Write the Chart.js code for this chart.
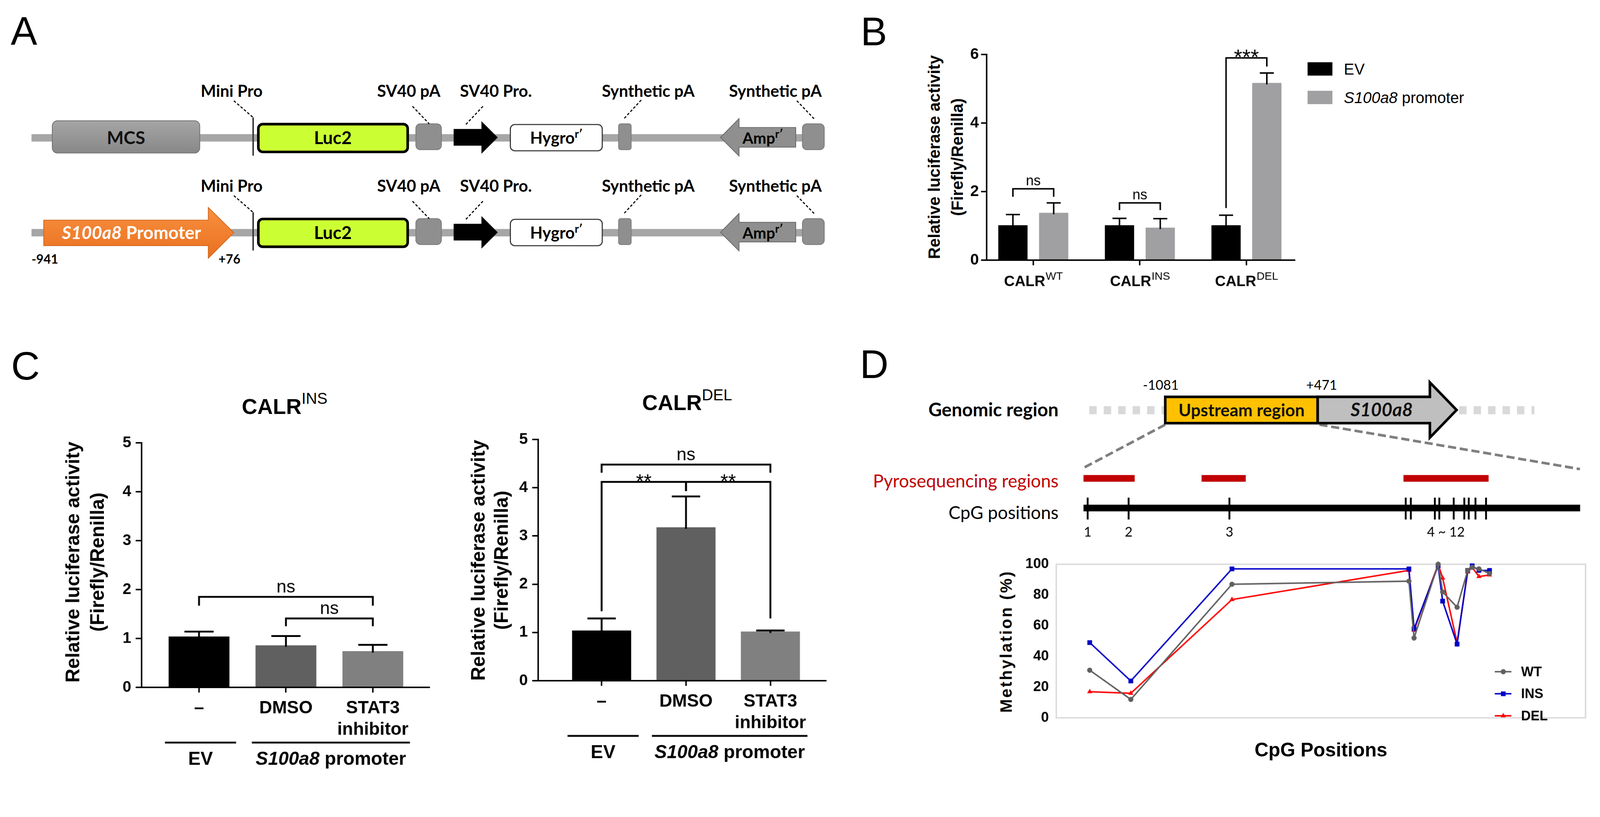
<!DOCTYPE html>
<html lang="en">
<head>
<meta charset="utf-8">
<title>S100a8 promoter activity and methylation</title>
<script src="https://cdn.jsdelivr.net/npm/chart.js@4.4.1/dist/chart.umd.min.js"></script>
<style>
  html, body { margin: 0; padding: 0; background: #fff; overflow: hidden; }
  #page { position: relative; width: 4317px; height: 2092px; overflow: hidden; transform-origin: 0 0; background: #fff; }
  #art { position: absolute; left: 0; top: 0; }
  canvas { position: absolute; }
</style>
</head>
<body>
<div id="page">
<svg id="art" width="4317" height="2092" xmlns="http://www.w3.org/2000/svg"></svg>
</div>
<script>
// ── Data ────────────────────────────────────────────────────
// B: EV vs S100a8 promoter, per CALR genotype
const bGenotypes = ['WT', 'INS', 'DEL'];
const bEV = [1.02, 1.02, 1.02];
const bEVErr = [1.33, 1.22, 1.31];
const bPromoter = [1.38, 0.95, 5.17];
const bPromoterErr = [1.67, 1.21, 5.46];
const bTickStep = 2;
const bSig = [
    { a: [0, 0], b: [1, 0], y: 2.08, ya: 1.85, yb: 1.85, text: 'ns' },
    { a: [0, 1], b: [1, 1], y: 1.67, ya: 1.46, yb: 1.46, text: 'ns' },
    { a: [0, 2], b: [1, 2], y: 5.90, ya: 1.52, yb: 5.65, text: '***' },
];

// C: STAT3 inhibitor, CALR INS and DEL
const cTreatments = [['\u2013'], ['DMSO'], ['STAT3', 'inhibitor']];
const cGroups = [
    { from: 0, to: 0, italic: '', text: 'EV' },
    { from: 1, to: 2, italic: 'S100a8', text: ' promoter' },
];
const cInsMean = [1.04, 0.86, 0.74];
const cInsErr = [1.14, 1.05, 0.87];
const cDelMean = [1.04, 3.18, 1.02];
const cDelErr = [1.29, 3.82, 1.04];
const cTickStep = 1;
const cInsSig = [
    { a: 0, b: 2, y: 1.85, ya: 1.67, yb: 1.67, text: 'ns' },
    { a: 1, b: 2, y: 1.41, ya: 1.25, yb: 1.25, text: 'ns' },
];
const cDelSig = [
    { a: 0, b: 2, y: 4.48, ya: 4.31, yb: 4.31, text: 'ns' },
    { a: 0, b: 1, y: 4.12, ya: 1.44, yb: 3.93, text: '**' },
    { a: 1, b: 2, y: 4.12, ya: 3.93, yb: 1.29, text: '**' },
];
const cColors = ['#000000', '#606060', '#808080'];

// D: CpG methylation (positions in bp relative to the S100a8 TSS)
const cpgPos = [-1068, -940, -625, -74, -58, 17, 31, 76, 109, 123, 144, 177];
const cpgLabelGroups = [{ from: 0, to: 0, text: '1' }, { from: 1, to: 1, text: '2' }, { from: 2, to: 2, text: '3' }, { from: 3, to: 11, text: '4 ~ 12' }];
const pyroRegions = [[-1081, -921], [-712, -574], [-81, 185]];
const upstreamSpan = [-1081, 471];
const methWT = [31, 12, 87, 89, 52, 100, 82, 72, 96, 98, 97, 94];
const methINS = [49, 24, 97, 97, 58, 99, 76, 48, 96, 99, 96, 96];
const methDEL = [17, 16, 77, 96, 57, 100, 91, 49, 95, 98, 92, 93];
const methTickStep = 20;

const ARIAL = "'Liberation Sans', Arial, sans-serif";
const CALIBRI = "Lato, 'Open Sans', sans-serif";
const PAGE_W = 4317, PAGE_H = 2092;

// ── Static artwork (vector maps, schematic, titles) ─────────
function text(x, y, content, o) {
    const a = [`x="${x}"`, `y="${y}"`, `font-family="${o.family || ARIAL}"`, `font-size="${o.size}"`,
        `font-weight="${o.weight || 'normal'}"`, `text-anchor="${o.anchor || 'middle'}"`, `fill="${o.fill || '#000'}"`];
    if (o.italic) a.push('font-style="italic"');
    if (o.spacing) a.push(`letter-spacing="${o.spacing}"`);
    if (o.rotate) a.push(`transform="rotate(-90 ${x} ${y})"`, 'dominant-baseline="central"');
    return `<text ${a.join(' ')}>${content}</text>`;
}
const sup = (s, size, dy, weight) => `<tspan font-size="${size}" font-weight="${weight || 'normal'}" dy="${-dy}">${s}</tspan>`;
const leader = (x1, y1, x2, y2) => `<line x1="${x1}" y1="${y1}" x2="${x2}" y2="${y2}" stroke="#000" stroke-width="3" stroke-dasharray="7 5"/>`;

function vectorRow(dy, withPromoter) {
    const y = 372 + dy;
    const lab = { size: 44, weight: 'bold', family: CALIBRI };
    let s = `<rect x="85" y="${y - 10}" width="2139" height="20" fill="#a6a6a6"/>`;
    if (withPromoter) {
        s += `<polygon points="118,${y - 34} 562,${y - 34} 562,${y - 68} 631,${y} 562,${y + 69} 562,${y + 35} 118,${y + 35}" fill="url(#orange)" stroke="#d0651c" stroke-width="2"/>`;
        s += `<text x="355" y="${y + 17}" font-family="${CALIBRI}" font-size="48" font-weight="bold" text-anchor="middle" fill="#fff"><tspan font-style="italic">S100a8</tspan> Promoter</text>`;
        s += text(121, y + 83, '-941', { size: 34, weight: 'bold', family: CALIBRI });
        s += text(619, y + 83, '+76', { size: 34, weight: 'bold', family: CALIBRI });
    } else {
        s += `<rect x="141" y="${y - 46}" width="398" height="87" rx="14" fill="url(#mcs)" stroke="#707070" stroke-width="2"/>`;
        s += text(340, y + 17, 'MCS', { size: 48, weight: 'bold', family: CALIBRI, fill: '#111' });
    }
    // mini promoter
    s += `<line x1="683" y1="${y - 55}" x2="683" y2="${y + 48}" stroke="#333" stroke-width="4"/>`;
    s += text(625, 261 + dy, 'Mini Pro', lab) + leader(631, 272 + dy, 683, 317 + dy);
    // Luc2
    s += `<rect x="697" y="${y - 37}" width="403" height="75" rx="12" fill="#ccff33" stroke="#000" stroke-width="7"/>`;
    s += text(898, y + 17, 'Luc2', { size: 48, weight: 'bold', family: CALIBRI });
    // SV40 pA
    s += `<rect x="1122" y="${y - 38}" width="69" height="70" rx="12" fill="#8f8f8f" stroke="#7a7a7a" stroke-width="2"/>`;
    s += text(1103, 261 + dy, 'SV40 pA', lab) + leader(1113, 287 + dy, 1158, 334 + dy);
    // SV40 promoter
    s += `<polygon points="1224,${y - 24} 1299,${y - 24} 1299,${y - 45} 1343,${y - 1} 1299,${y + 43} 1299,${y + 21} 1224,${y + 21}" fill="#000"/>`;
    s += text(1338, 261 + dy, 'SV40 Pro.', lab) + leader(1303, 287 + dy, 1255, 338 + dy);
    // Hygro
    s += `<rect x="1377" y="${y - 36}" width="248" height="71" rx="12" fill="#fff" stroke="#3a3a3a" stroke-width="3"/>`;
    s += `<text x="1501" y="${y + 16}" font-family="${CALIBRI}" font-size="44" font-weight="bold" text-anchor="middle">Hygro${sup('r\u2032', 30, 16, 'bold')}</text>`;
    // synthetic pA
    s += `<rect x="1669" y="${y - 38}" width="34" height="70" rx="6" fill="#8f8f8f" stroke="#7a7a7a" stroke-width="2"/>`;
    s += text(1749, 261 + dy, 'Synthetic pA', lab) + leader(1730, 270 + dy, 1682, 322 + dy);
    // Amp
    s += `<polygon points="1944,${y - 1} 1994,${y - 52} 1994,${y - 28} 2147,${y - 28} 2147,${y + 25} 1994,${y + 25} 1994,${y + 49}" fill="#8f8f8f" stroke="#666" stroke-width="2"/>`;
    s += `<text x="2058" y="${y + 16}" font-family="${CALIBRI}" font-size="42" font-weight="bold" text-anchor="middle">Amp${sup('r\u2032', 30, 16, 'bold')}</text>`;
    s += `<rect x="2165" y="${y - 38}" width="59" height="70" rx="12" fill="#8f8f8f" stroke="#7a7a7a" stroke-width="2"/>`;
    s += text(2092, 261 + dy, 'Synthetic pA', lab) + leader(2150, 272 + dy, 2198, 322 + dy);
    return s;
}

function buildArt() {
    let s = `<defs>
      <linearGradient id="mcs" x1="0" y1="0" x2="0" y2="1"><stop offset="0" stop-color="#a5a5a5"/><stop offset="1" stop-color="#888"/></linearGradient>
      <linearGradient id="orange" x1="0" y1="0" x2="0" y2="1"><stop offset="0" stop-color="#f79040"/><stop offset="1" stop-color="#ea701f"/></linearGradient>
    </defs>`;
    // panel letters
    const L = { size: 107, anchor: 'start' };
    s += text(29, 121, 'A', L) + text(2322, 122, 'B', L) + text(30, 1024, 'C', L) + text(2320, 1020, 'D', L);

    // A
    s += vectorRow(0, false) + vectorRow(256, true);

    // B titles and legend
    const yt = { size: 44, weight: 'bold', rotate: true };
    s += text(2521, 424, 'Relative luciferase activity', yt) + text(2583, 424, '(Firefly/Renilla)', yt);
    s += `<rect x="3528" y="168" width="67" height="36" fill="#000"/><rect x="3528" y="245" width="67" height="36" fill="#a0a0a3"/>`;
    s += text(3626, 201, 'EV', { size: 42, anchor: 'start' });
    s += text(3626, 278, '<tspan font-style="italic">S100a8</tspan> promoter', { size: 42, anchor: 'start' });

    // C titles
    s += text(768, 1117, 'CALR' + sup('INS', 42, 27), { size: 58, weight: 'bold' });
    s += text(1854, 1107, 'CALR' + sup('DEL', 42, 27), { size: 58, weight: 'bold' });
    const ct = { size: 52, weight: 'bold', rotate: true };
    s += text(195, 1517, 'Relative luciferase activity', ct) + text(262, 1517, '(Firefly/Renilla)', ct);
    s += text(1290, 1512, 'Relative luciferase activity', ct) + text(1352, 1512, '(Firefly/Renilla)', ct);

    // D schematic
    s += `<line x1="2939" y1="1107" x2="3140" y2="1107" stroke="#d9d9d9" stroke-width="22" stroke-dasharray="20 19"/>`;
    s += `<line x1="3937" y1="1107" x2="4140" y2="1107" stroke="#d9d9d9" stroke-width="22" stroke-dasharray="20 19"/>`;
    s += `<line x1="3144" y1="1146" x2="2923" y2="1263" stroke="#7f7f7f" stroke-width="7" stroke-dasharray="22 10"/>`;
    s += `<line x1="3560" y1="1146" x2="4263" y2="1266" stroke="#7f7f7f" stroke-width="7" stroke-dasharray="22 10"/>`;
    s += `<polygon points="3555,1071 3858,1071 3858,1032 3930,1106.5 3858,1181 3858,1142 3555,1142" fill="#bfbfbf" stroke="#000" stroke-width="7"/>`;
    s += `<rect x="3144" y="1071" width="411" height="71" fill="#ffc000" stroke="#000" stroke-width="7"/>`;
    s += text(3350, 1123, 'Upstream region', { size: 46, weight: 'bold', family: CALIBRI, fill: '#111' });
    s += text(3728, 1124, 'S100a8', { size: 50, weight: 'bold', family: CALIBRI, italic: true, fill: '#111' });
    s += text(3132, 1052, '-1081', { size: 36, family: CALIBRI }) + text(3566, 1052, '+471', { size: 36, family: CALIBRI });
    s += text(2856, 1123, 'Genomic region', { size: 50, weight: 'bold', family: CALIBRI, anchor: 'end' });
    s += text(2856, 1315, 'Pyrosequencing regions', { size: 48, family: CALIBRI, anchor: 'end', fill: '#c00000' });
    s += text(2856, 1401, 'CpG positions', { size: 48, family: CALIBRI, anchor: 'end' });

    // D chart titles
    s += text(2714, 1731, 'Methylation (%)', { size: 44, weight: 'bold', rotate: true, spacing: 4 });
    s += text(3564, 2041, 'CpG Positions', { size: 52, weight: 'bold' });

    document.getElementById('art').innerHTML = s;
}

// ── Chart plugins ───────────────────────────────────────────
function barAt(chart, ref) {
    const [d, i] = Array.isArray(ref) ? ref : [0, ref];
    return chart.getDatasetMeta(d).data[i];
}

function errorBars(errs, width) {
    return {
        id: 'errorBars',
        afterDatasetsDraw(chart) {
            const { ctx } = chart;
            const y = chart.scales.y;
            ctx.save();
            ctx.strokeStyle = '#000';
            ctx.lineWidth = width;
            errs.forEach((err, d) => {
                chart.getDatasetMeta(d).data.forEach((bar, i) => {
                    const top = y.getPixelForValue(err[i]);
                    const half = bar.width * 0.24;
                    ctx.beginPath();
                    ctx.moveTo(bar.x, bar.y + 4);
                    ctx.lineTo(bar.x, top);
                    ctx.moveTo(bar.x - half, top);
                    ctx.lineTo(bar.x + half, top);
                    ctx.stroke();
                });
            });
            ctx.restore();
        }
    };
}

function sigBrackets(items, size, starSize, width) {
    return {
        id: 'sigBrackets',
        afterDatasetsDraw(chart) {
            const { ctx } = chart;
            const y = chart.scales.y;
            ctx.save();
            ctx.strokeStyle = '#000';
            ctx.fillStyle = '#000';
            ctx.lineWidth = width;
            ctx.textAlign = 'center';
            items.forEach(s => {
                const xa = barAt(chart, s.a).x, xb = barAt(chart, s.b).x;
                const yy = y.getPixelForValue(s.y);
                ctx.beginPath();
                ctx.moveTo(xa, y.getPixelForValue(s.ya));
                ctx.lineTo(xa, yy);
                ctx.lineTo(xb, yy);
                ctx.lineTo(xb, y.getPixelForValue(s.yb));
                ctx.stroke();
                const star = s.text.includes('*');
                ctx.font = `${star ? starSize : size}px ${ARIAL}`;
                ctx.fillText(s.text, (xa + xb) / 2, star ? yy + starSize * 0.3 : yy - size * 0.25);
            });
            ctx.restore();
        }
    };
}

const calrLabels = {
    id: 'calrLabels',
    afterDraw(chart) {
        const { ctx, chartArea } = chart;
        const x = chart.scales.x;
        const base = chartArea.bottom + 70;
        ctx.save();
        ctx.fillStyle = '#000';
        ctx.textAlign = 'left';
        bGenotypes.forEach((g, i) => {
            ctx.font = `bold 40px ${ARIAL}`;
            const w1 = ctx.measureText('CALR').width;
            ctx.font = `30px ${ARIAL}`;
            const w2 = ctx.measureText(g).width;
            const left = x.getPixelForValue(i) - (w1 + w2) / 2;
            ctx.font = `bold 40px ${ARIAL}`;
            ctx.fillText('CALR', left, base);
            ctx.font = `30px ${ARIAL}`;
            ctx.fillText(g, left + w1 + 1, base - 17);
        });
        ctx.restore();
    }
};

const treatmentLabels = {
    id: 'treatmentLabels',
    afterDraw(chart) {
        const { ctx, chartArea } = chart;
        const x = chart.scales.x;
        const b = chartArea.bottom;
        ctx.save();
        ctx.fillStyle = '#000';
        ctx.strokeStyle = '#000';
        ctx.textAlign = 'center';
        ctx.font = `bold 48px ${ARIAL}`;
        cTreatments.forEach((lines, i) => {
            lines.forEach((s, k) => ctx.fillText(s, x.getPixelForValue(i), b + 70 + k * 58));
        });
        ctx.lineWidth = 5;
        ctx.textAlign = 'left';
        cGroups.forEach(g => {
            const l = x.getPixelForValue(g.from) - 92;
            const r = x.getPixelForValue(g.to) + 100;
            ctx.beginPath();
            ctx.moveTo(l, b + 149);
            ctx.lineTo(r, b + 149);
            ctx.stroke();
            ctx.font = `italic bold 50px ${ARIAL}`;
            const wi = ctx.measureText(g.italic).width;
            ctx.font = `bold 50px ${ARIAL}`;
            const wt = ctx.measureText(g.text).width;
            const sx = (l + r) / 2 - (wi + wt) / 2;
            ctx.font = `italic bold 50px ${ARIAL}`;
            ctx.fillText(g.italic, sx, b + 209);
            ctx.font = `bold 50px ${ARIAL}`;
            ctx.fillText(g.text, sx + wi, b + 209);
        });
        ctx.restore();
    }
};

function drawMarker(ctx, style, x, y, r, color) {
    ctx.fillStyle = color;
    ctx.beginPath();
    if (style === 'rect') {
        const s = r * Math.SQRT1_2;
        ctx.rect(x - s, y - s, 2 * s, 2 * s);
    } else if (style === 'triangle') {
        ctx.moveTo(x, y - r);
        ctx.lineTo(x + r * 0.866, y + r * 0.5);
        ctx.lineTo(x - r * 0.866, y + r * 0.5);
        ctx.closePath();
    } else {
        ctx.arc(x, y, r, 0, Math.PI * 2);
    }
    ctx.fill();
}

const plotFrame = {
    id: 'plotFrame',
    beforeDatasetsDraw(chart) {
        const { ctx, chartArea: a } = chart;
        ctx.save();
        ctx.strokeStyle = '#dcdcdc';
        ctx.lineWidth = 4;
        ctx.strokeRect(a.left, a.top, a.width, a.height);
        ctx.restore();
    }
};

const methLegend = {
    id: 'methLegend',
    afterDraw(chart) {
        const { ctx, chartArea: a } = chart;
        ctx.save();
        ctx.font = `bold 36px ${ARIAL}`;
        ctx.textBaseline = 'middle';
        chart.data.datasets.forEach((ds, i) => {
            const y = a.top + 290 + i * 59.5;
            ctx.strokeStyle = ds.borderColor;
            ctx.lineWidth = 4;
            ctx.beginPath();
            ctx.moveTo(a.right - 245, y);
            ctx.lineTo(a.right - 200, y);
            ctx.stroke();
            drawMarker(ctx, ds.pointStyle, a.right - 222, y, ds.pointRadius, ds.borderColor);
            ctx.fillStyle = '#000';
            ctx.fillText(ds.label, a.right - 174, y + 2);
        });
        ctx.restore();
    }
};

const cpgTrack = {
    id: 'cpgTrack',
    afterDraw(chart) {
        const { ctx, chartArea: a } = chart;
        const x = chart.scales.x;
        ctx.save();
        ctx.fillStyle = '#c00000';
        pyroRegions.forEach(([s, e]) => {
            const l = x.getPixelForValue(s), r = x.getPixelForValue(e);
            ctx.fillRect(l, a.top + 12, r - l, 18);
        });
        ctx.fillStyle = '#000';
        const l = x.getPixelForValue(upstreamSpan[0]), r = x.getPixelForValue(upstreamSpan[1]);
        ctx.fillRect(l, a.top + 92, r - l, 18);
        ctx.strokeStyle = '#000';
        ctx.lineWidth = 5;
        cpgPos.forEach(p => {
            const px = x.getPixelForValue(p);
            ctx.beginPath();
            ctx.moveTo(px, a.top + 73);
            ctx.lineTo(px, a.top + 132);
            ctx.stroke();
        });
        ctx.font = `36px ${CALIBRI}`;
        ctx.textAlign = 'center';
        cpgLabelGroups.forEach(g => {
            const mid = (x.getPixelForValue(cpgPos[g.from]) + x.getPixelForValue(cpgPos[g.to])) / 2;
            ctx.fillText(g.text, mid, a.top + 178);
        });
        ctx.restore();
    }
};

// ── Chart helpers ───────────────────────────────────────────
function mount(left, top, w, h) {
    const c = document.createElement('canvas');
    c.width = w;
    c.height = h;
    c.style.left = left + 'px';
    c.style.top = top + 'px';
    c.style.width = w + 'px';
    c.style.height = h + 'px';
    document.getElementById('page').appendChild(c);
    return c;
}

const baseOptions = {
    responsive: false,
    animation: false,
    devicePixelRatio: 1,
    events: [],
    plugins: { legend: { display: false }, tooltip: { enabled: false } },
};

const axisLine = { color: '#000', width: 4 };
const tickMarks = len => ({ drawOnChartArea: false, drawTicks: true, tickLength: len, lineWidth: 4, color: '#000', offset: false });

function indexScale(min, max, count, height) {
    return {
        type: 'linear', min, max, offset: false,
        afterBuildTicks: s => { s.ticks = Array.from({ length: count }, (_, i) => ({ value: i })); },
        afterFit: s => { s.height = height; },
        ticks: { display: false },
        grid: tickMarks(14),
        border: axisLine,
    };
}

function valueScale(max, step, width, tickLen, pad) {
    return {
        min: 0, max,
        ticks: { stepSize: step, color: '#000', padding: pad, font: { family: ARIAL, size: 42, weight: 'bold' } },
        grid: tickMarks(tickLen),
        border: axisLine,
        afterFit: s => { s.width = width; },
    };
}

// ── Panel B ─────────────────────────────────────────────────
function initPanelB() {
    const bar = { categoryPercentage: 0.765, barPercentage: 0.718, borderWidth: 0 };
    new Chart(mount(2530, 100, 965, 700), {
        type: 'bar',
        data: {
            datasets: [
                { label: 'EV', data: bEV.map((v, i) => ({ x: i, y: v })), backgroundColor: '#000', ...bar },
                { label: 'S100a8 promoter', data: bPromoter.map((v, i) => ({ x: i, y: v })), backgroundColor: '#a0a0a3', ...bar },
            ]
        },
        options: {
            ...baseOptions,
            layout: { padding: { top: 47, left: 0, right: 0, bottom: 0 } },
            scales: {
                x: indexScale(-0.438, 2.459, bGenotypes.length, 98),
                y: valueScale(6, bTickStep, 132, 15, 6),
            }
        },
        plugins: [errorBars([bEVErr, bPromoterErr], 4), sigBrackets(bSig, 38, 58, 4), calrLabels]
    });
}

// ── Panel C ─────────────────────────────────────────────────
function initPanelC(left, top, means, errs, sig, xMin, xMax, padTop, xHeight) {
    new Chart(mount(left, top, 910, 950), {
        type: 'bar',
        data: {
            datasets: [{
                data: means.map((v, i) => ({ x: i, y: v })),
                backgroundColor: cColors,
                categoryPercentage: 1, barPercentage: 0.7, borderWidth: 0,
            }]
        },
        options: {
            ...baseOptions,
            layout: { padding: { top: padTop, left: 0, right: 0, bottom: 0 } },
            scales: {
                x: indexScale(xMin, xMax, cTreatments.length, xHeight),
                y: valueScale(5, cTickStep, 132, 16, 12),
            }
        },
        plugins: [errorBars([errs], 5), sigBrackets(sig, 48, 54, 5), treatmentLabels]
    });
}

// ── Panel D ─────────────────────────────────────────────────
function initPanelD() {
    new Chart(mount(2850, 1270, 1428, 190), {
        type: 'scatter',
        data: { datasets: [{ data: [] }] },
        options: {
            ...baseOptions,
            scales: {
                x: { type: 'linear', min: -1166, max: 488, display: false },
                y: { display: false },
            }
        },
        plugins: [cpgTrack]
    });

    const series = (label, values, color, style, r) => ({
        label, data: cpgPos.map((x, i) => ({ x, y: values[i] })),
        borderColor: color, backgroundColor: color, pointBackgroundColor: color, pointBorderColor: color,
        borderWidth: 4, pointStyle: style, pointRadius: r, pointBorderWidth: 0, tension: 0, clip: false,
    });

    new Chart(mount(2700, 1480, 1590, 500), {
        type: 'line',
        data: {
            datasets: [
                series('WT', methWT, '#606060', 'circle', 7),
                series('INS', methINS, '#0000c8', 'rect', 9),
                series('DEL', methDEL, '#ff0000', 'triangle', 8),
            ]
        },
        options: {
            ...baseOptions,
            layout: { padding: { top: 32, bottom: 30, right: 12, left: 0 } },
            scales: {
                x: { type: 'linear', min: -1172, max: 476, display: false },
                y: {
                    min: 0, max: 100,
                    ticks: { stepSize: methTickStep, color: '#000', padding: 20, font: { family: ARIAL, size: 38, weight: 'bold' } },
                    grid: { display: false, drawTicks: false },
                    border: { display: false },
                    afterFit: s => { s.width = 150; },
                }
            }
        },
        plugins: [plotFrame, methLegend]
    });
}

// ── Fit the 4317x2092 page into whatever viewport we get ────
function fitPage() {
    const k = Math.min(window.innerWidth / PAGE_W, window.innerHeight / PAGE_H);
    document.getElementById('page').style.transform = `scale(${k})`;
}

// ── Init ────────────────────────────────────────────────────
buildArt();
initPanelB();
initPanelC(250, 1130, cInsMean, cInsErr, cInsSig, -0.661, 2.657, 65, 225);
initPanelC(1320, 1120, cDelMean, cDelErr, cDelSig, -0.752, 2.665, 66, 233);
initPanelD();
fitPage();
window.addEventListener('resize', fitPage);
</script>
</body>
</html>
